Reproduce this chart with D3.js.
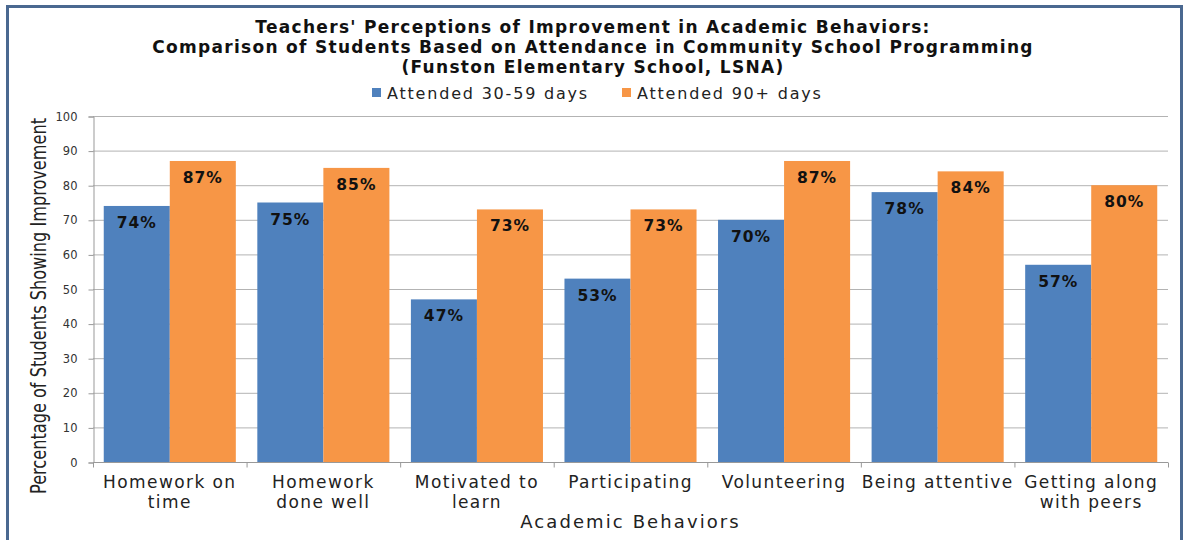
<html>
<head>
<meta charset="utf-8">
<script src="https://cdn.jsdelivr.net/npm/d3@7"></script>
<style>
  body { margin: 0; background: #fff; }
  text { font-family: "DejaVu Sans", sans-serif; }
</style>
</head>
<body>
<script>

// data
var categories = ["Homework on time", "Homework done well", "Motivated to learn", "Participating",
                  "Volunteering", "Being attentive", "Getting along with peers"];
var catLines = [["Homework on", "time"], ["Homework", "done well"], ["Motivated to", "learn"], ["Participating"],
                ["Volunteering"], ["Being attentive"], ["Getting along", "with peers"]];
var seriesNames = ["Attended 30-59 days", "Attended 90+ days"];
var attended30 = [74, 75, 47, 53, 70, 78, 57];
var attended90 = [87, 85, 73, 73, 87, 84, 80];
var yTicks = [0, 10, 20, 30, 40, 50, 60, 70, 80, 90, 100];
var titleLines = ["Teachers' Perceptions of Improvement in Academic Behaviors:",
                  "Comparison of Students Based on Attendance in Community School Programming",
                  "(Funston Elementary School, LSNA)"];

var COLORS = ["#4F81BD", "#F79646"];
var W = 1184, H = 540;
var plot = { left: 93, right: 1168, top: 116, bottom: 462 };

var svg = d3.select("body").append("svg").attr("width", W).attr("height", H);

// frame
svg.append("rect").attr("x", 7.5).attr("y", 6.5).attr("width", 1174).attr("height", 560)
  .attr("fill", "#fff").attr("stroke", "#4A6890").attr("stroke-width", 3);

// title
svg.append("g").selectAll("text").data(titleLines).enter().append("text")
  .attr("x", 593).attr("y", function(d, i) { return 33 + i * 20; })
  .attr("text-anchor", "middle").attr("font-size", 17).attr("font-weight", "bold")
  .attr("letter-spacing", 1.3)
  .attr("fill", "#111").text(function(d) { return d; });

// legend
var leg = svg.append("g");
var legX = [372, 622];
seriesNames.forEach(function(name, i) {
  leg.append("rect").attr("x", legX[i]).attr("y", 88).attr("width", 9).attr("height", 9).attr("fill", COLORS[i]);
  leg.append("text").attr("x", legX[i] + 15).attr("y", 99).attr("font-size", 16).attr("letter-spacing", 1.8)
    .attr("fill", "#222").text(name);
});

// scales
var y = d3.scaleLinear().domain([0, 100]).range([plot.bottom, plot.top]);
var x0 = d3.scaleBand().domain(categories).range([plot.left, plot.right]).paddingInner(0.14).paddingOuter(0.07);
var x1 = d3.scaleBand().domain([0, 1]).range([0, x0.bandwidth()]);

// grid
svg.append("g").selectAll("line").data(yTicks.slice(1)).enter().append("line")
  .attr("x1", plot.left).attr("x2", plot.right)
  .attr("y1", function(d) { return y(d) + 0.5; }).attr("y2", function(d) { return y(d) + 0.5; })
  .attr("stroke", "#B3B3B3").attr("stroke-width", 1);

// y axis
var yAxis = svg.append("g").attr("transform", "translate(" + (plot.left + 0.5) + ",0.5)")
  .call(d3.axisLeft(y).tickValues(yTicks).tickSize(5).tickPadding(11));
yAxis.select(".domain").attr("stroke", "#999");
yAxis.selectAll(".tick line").attr("stroke", "#999");
yAxis.selectAll("text").attr("font-size", 11.5).attr("fill", "#333").attr("font-family", "DejaVu Sans");

// bars
var data = categories.map(function(c, i) { return { cat: c, vals: [attended30[i], attended90[i]] }; });
var groups = svg.append("g").selectAll("g").data(data).enter().append("g")
  .attr("transform", function(d) { return "translate(" + x0(d.cat) + ",0)"; });
groups.selectAll("rect").data(function(d) { return d.vals; }).enter().append("rect")
  .attr("x", function(d, i) { return x1(i); })
  .attr("y", function(d) { return y(d); })
  .attr("width", x1.bandwidth())
  .attr("height", function(d) { return plot.bottom - y(d); })
  .attr("fill", function(d, i) { return COLORS[i]; });
groups.selectAll("text").data(function(d) { return d.vals; }).enter().append("text")
  .attr("x", function(d, i) { return x1(i) + x1.bandwidth() / 2; })
  .attr("y", function(d) { return y(d) + 22; })
  .attr("text-anchor", "middle").attr("font-size", 15.5).attr("font-weight", "bold")
  .attr("letter-spacing", 1).attr("fill", "#111")
  .text(function(d) { return d + "%"; });

// x axis
var xAxis = svg.append("g").attr("transform", "translate(0," + (plot.bottom + 0.5) + ")");
xAxis.append("line").attr("x1", plot.left).attr("x2", plot.right).attr("stroke", "#999");
var step = (plot.right - plot.left) / categories.length;
xAxis.selectAll(".tk").data(d3.range(categories.length + 1)).enter().append("line")
  .attr("x1", function(d) { return plot.left + d * step + 0.5; })
  .attr("x2", function(d) { return plot.left + d * step + 0.5; })
  .attr("y1", 0).attr("y2", 5).attr("stroke", "#999");

var xl = svg.append("g").selectAll("text").data(data).enter().append("text")
  .attr("text-anchor", "middle").attr("font-size", 17).attr("letter-spacing", 1.4).attr("fill", "#222");
xl.each(function(d, i) {
  var t = d3.select(this);
  catLines[i].forEach(function(line, j) {
    t.append("tspan").attr("x", x0(d.cat) + x0.bandwidth() / 2).attr("y", 488 + j * 20).text(line);
  });
});

// axis titles
svg.append("text").attr("x", (plot.left + plot.right) / 2).attr("y", 528)
  .attr("text-anchor", "middle").attr("font-size", 18).attr("letter-spacing", 2.1)
  .attr("fill", "#222").text("Academic Behaviors");
svg.append("text").attr("transform", "translate(46,306) rotate(-90)")
  .attr("text-anchor", "middle").attr("font-size", 21).attr("fill", "#222")
  .attr("textLength", 376).attr("lengthAdjust", "spacingAndGlyphs")
  .text("Percentage of Students Showing Improvement");

</script>
</body>
</html>
